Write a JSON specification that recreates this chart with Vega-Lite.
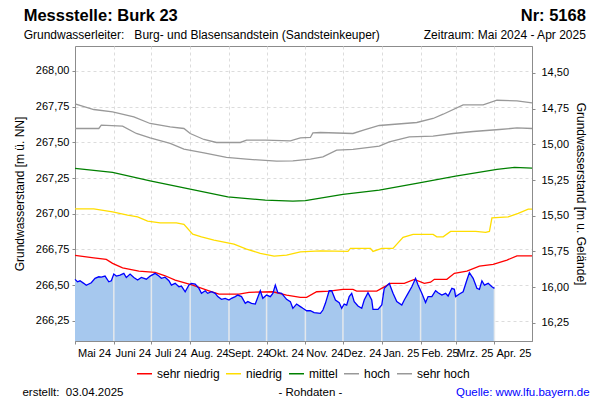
{
  "$schema": "https://vega.github.io/schema/vega-lite/v6.json",
  "width": 457,
  "height": 295,
  "autosize": "none",
  "padding": {"left": 75, "top": 46, "right": 68, "bottom": 59},
  "background": "white",
  "config": {
    "font": "Liberation Sans",
    "view": {"stroke": "#8c8c8c", "strokeWidth": 1},
    "axis": {
      "domainColor": "#8c8c8c",
      "tickColor": "#8c8c8c",
      "gridColor": "#dcdcdc",
      "gridDash": [3, 3],
      "labelFont": "Liberation Sans",
      "labelFontSize": 11,
      "labelColor": "#000000",
      "titleFont": "Liberation Sans",
      "titleFontSize": 12,
      "titleFontWeight": "normal",
      "titleColor": "#000000",
      "tickSize": 3
    },
    "legend": {
      "labelFont": "Liberation Sans",
      "labelFontSize": 12,
      "labelColor": "#000000"
    }
  },
  "datasets": {
    "stats": [
      {"s": "sehr hoch", "d": "2024-05-01", "v": 267.769},
      {"s": "sehr hoch", "d": "2024-05-16", "v": 267.73},
      {"s": "sehr hoch", "d": "2024-05-31", "v": 267.713},
      {"s": "sehr hoch", "d": "2024-06-17", "v": 267.678},
      {"s": "sehr hoch", "d": "2024-06-30", "v": 267.632},
      {"s": "sehr hoch", "d": "2024-07-16", "v": 267.608},
      {"s": "sehr hoch", "d": "2024-07-27", "v": 267.597},
      {"s": "sehr hoch", "d": "2024-08-01", "v": 267.562},
      {"s": "sehr hoch", "d": "2024-08-12", "v": 267.52},
      {"s": "sehr hoch", "d": "2024-08-22", "v": 267.499},
      {"s": "sehr hoch", "d": "2024-09-10", "v": 267.499},
      {"s": "sehr hoch", "d": "2024-09-15", "v": 267.515},
      {"s": "sehr hoch", "d": "2024-09-30", "v": 267.515},
      {"s": "sehr hoch", "d": "2024-10-20", "v": 267.51},
      {"s": "sehr hoch", "d": "2024-10-28", "v": 267.531},
      {"s": "sehr hoch", "d": "2024-11-05", "v": 267.534},
      {"s": "sehr hoch", "d": "2024-11-07", "v": 267.566},
      {"s": "sehr hoch", "d": "2024-11-13", "v": 267.569},
      {"s": "sehr hoch", "d": "2024-12-09", "v": 267.562},
      {"s": "sehr hoch", "d": "2024-12-18", "v": 267.587},
      {"s": "sehr hoch", "d": "2024-12-30", "v": 267.618},
      {"s": "sehr hoch", "d": "2025-01-29", "v": 267.639},
      {"s": "sehr hoch", "d": "2025-02-11", "v": 267.667},
      {"s": "sehr hoch", "d": "2025-02-19", "v": 267.697},
      {"s": "sehr hoch", "d": "2025-03-07", "v": 267.762},
      {"s": "sehr hoch", "d": "2025-03-23", "v": 267.762},
      {"s": "sehr hoch", "d": "2025-04-03", "v": 267.795},
      {"s": "sehr hoch", "d": "2025-04-19", "v": 267.79},
      {"s": "sehr hoch", "d": "2025-05-01", "v": 267.776},
      {"s": "hoch", "d": "2024-05-01", "v": 267.597},
      {"s": "hoch", "d": "2024-05-20", "v": 267.597},
      {"s": "hoch", "d": "2024-05-22", "v": 267.62},
      {"s": "hoch", "d": "2024-06-08", "v": 267.613},
      {"s": "hoch", "d": "2024-06-19", "v": 267.562},
      {"s": "hoch", "d": "2024-06-30", "v": 267.531},
      {"s": "hoch", "d": "2024-07-16", "v": 267.492},
      {"s": "hoch", "d": "2024-07-27", "v": 267.452},
      {"s": "hoch", "d": "2024-08-12", "v": 267.426},
      {"s": "hoch", "d": "2024-08-30", "v": 267.394},
      {"s": "hoch", "d": "2024-09-15", "v": 267.382},
      {"s": "hoch", "d": "2024-10-09", "v": 267.368},
      {"s": "hoch", "d": "2024-10-22", "v": 267.37},
      {"s": "hoch", "d": "2024-11-05", "v": 267.382},
      {"s": "hoch", "d": "2024-11-15", "v": 267.398},
      {"s": "hoch", "d": "2024-11-26", "v": 267.445},
      {"s": "hoch", "d": "2024-12-09", "v": 267.45},
      {"s": "hoch", "d": "2024-12-30", "v": 267.473},
      {"s": "hoch", "d": "2025-01-07", "v": 267.503},
      {"s": "hoch", "d": "2025-01-23", "v": 267.538},
      {"s": "hoch", "d": "2025-02-11", "v": 267.543},
      {"s": "hoch", "d": "2025-02-27", "v": 267.562},
      {"s": "hoch", "d": "2025-03-15", "v": 267.576},
      {"s": "hoch", "d": "2025-04-05", "v": 267.59},
      {"s": "hoch", "d": "2025-04-19", "v": 267.601},
      {"s": "hoch", "d": "2025-05-01", "v": 267.597},
      {"s": "mittel", "d": "2024-05-01", "v": 267.317},
      {"s": "mittel", "d": "2024-05-31", "v": 267.289},
      {"s": "mittel", "d": "2024-06-30", "v": 267.23},
      {"s": "mittel", "d": "2024-07-31", "v": 267.174},
      {"s": "mittel", "d": "2024-08-31", "v": 267.118},
      {"s": "mittel", "d": "2024-09-30", "v": 267.095},
      {"s": "mittel", "d": "2024-10-22", "v": 267.088},
      {"s": "mittel", "d": "2024-11-01", "v": 267.092},
      {"s": "mittel", "d": "2024-12-01", "v": 267.135},
      {"s": "mittel", "d": "2024-12-30", "v": 267.165},
      {"s": "mittel", "d": "2025-01-31", "v": 267.216},
      {"s": "mittel", "d": "2025-03-01", "v": 267.263},
      {"s": "mittel", "d": "2025-04-03", "v": 267.31},
      {"s": "mittel", "d": "2025-04-17", "v": 267.324},
      {"s": "mittel", "d": "2025-05-01", "v": 267.32},
      {"s": "niedrig", "d": "2024-05-01", "v": 267.034},
      {"s": "niedrig", "d": "2024-05-16", "v": 267.034},
      {"s": "niedrig", "d": "2024-05-31", "v": 267.013},
      {"s": "niedrig", "d": "2024-06-12", "v": 266.99},
      {"s": "niedrig", "d": "2024-06-20", "v": 266.978},
      {"s": "niedrig", "d": "2024-06-28", "v": 266.948},
      {"s": "niedrig", "d": "2024-07-08", "v": 266.936},
      {"s": "niedrig", "d": "2024-07-21", "v": 266.936},
      {"s": "niedrig", "d": "2024-07-27", "v": 266.925},
      {"s": "niedrig", "d": "2024-08-03", "v": 266.857},
      {"s": "niedrig", "d": "2024-08-10", "v": 266.838},
      {"s": "niedrig", "d": "2024-08-20", "v": 266.815},
      {"s": "niedrig", "d": "2024-09-05", "v": 266.787},
      {"s": "niedrig", "d": "2024-09-15", "v": 266.752},
      {"s": "niedrig", "d": "2024-09-26", "v": 266.722},
      {"s": "niedrig", "d": "2024-10-07", "v": 266.703},
      {"s": "niedrig", "d": "2024-10-17", "v": 266.71},
      {"s": "niedrig", "d": "2024-10-28", "v": 266.733},
      {"s": "niedrig", "d": "2024-11-13", "v": 266.74},
      {"s": "niedrig", "d": "2024-12-05", "v": 266.736},
      {"s": "niedrig", "d": "2024-12-07", "v": 266.757},
      {"s": "niedrig", "d": "2024-12-23", "v": 266.757},
      {"s": "niedrig", "d": "2024-12-25", "v": 266.736},
      {"s": "niedrig", "d": "2025-01-01", "v": 266.757},
      {"s": "niedrig", "d": "2025-01-10", "v": 266.757},
      {"s": "niedrig", "d": "2025-01-18", "v": 266.834},
      {"s": "niedrig", "d": "2025-01-26", "v": 266.855},
      {"s": "niedrig", "d": "2025-02-11", "v": 266.855},
      {"s": "niedrig", "d": "2025-02-14", "v": 266.838},
      {"s": "niedrig", "d": "2025-02-19", "v": 266.838},
      {"s": "niedrig", "d": "2025-02-25", "v": 266.876},
      {"s": "niedrig", "d": "2025-03-17", "v": 266.876},
      {"s": "niedrig", "d": "2025-03-25", "v": 266.869},
      {"s": "niedrig", "d": "2025-03-28", "v": 266.876},
      {"s": "niedrig", "d": "2025-03-30", "v": 266.971},
      {"s": "niedrig", "d": "2025-04-12", "v": 266.978},
      {"s": "niedrig", "d": "2025-04-20", "v": 267.002},
      {"s": "niedrig", "d": "2025-04-28", "v": 267.032},
      {"s": "niedrig", "d": "2025-05-01", "v": 267.032},
      {"s": "sehr niedrig", "d": "2024-05-01", "v": 266.708},
      {"s": "sehr niedrig", "d": "2024-05-16", "v": 266.691},
      {"s": "sehr niedrig", "d": "2024-05-26", "v": 266.68},
      {"s": "sehr niedrig", "d": "2024-05-31", "v": 266.652},
      {"s": "sehr niedrig", "d": "2024-06-08", "v": 266.621},
      {"s": "sehr niedrig", "d": "2024-06-21", "v": 266.598},
      {"s": "sehr niedrig", "d": "2024-07-04", "v": 266.589},
      {"s": "sehr niedrig", "d": "2024-07-12", "v": 266.565},
      {"s": "sehr niedrig", "d": "2024-07-20", "v": 266.535},
      {"s": "sehr niedrig", "d": "2024-08-03", "v": 266.5},
      {"s": "sehr niedrig", "d": "2024-08-16", "v": 266.46},
      {"s": "sehr niedrig", "d": "2024-08-24", "v": 266.437},
      {"s": "sehr niedrig", "d": "2024-09-09", "v": 266.437},
      {"s": "sehr niedrig", "d": "2024-09-17", "v": 266.449},
      {"s": "sehr niedrig", "d": "2024-10-06", "v": 266.453},
      {"s": "sehr niedrig", "d": "2024-10-17", "v": 266.43},
      {"s": "sehr niedrig", "d": "2024-10-28", "v": 266.414},
      {"s": "sehr niedrig", "d": "2024-11-02", "v": 266.414},
      {"s": "sehr niedrig", "d": "2024-11-10", "v": 266.453},
      {"s": "sehr niedrig", "d": "2024-11-20", "v": 266.458},
      {"s": "sehr niedrig", "d": "2024-12-01", "v": 266.47},
      {"s": "sehr niedrig", "d": "2024-12-09", "v": 266.47},
      {"s": "sehr niedrig", "d": "2024-12-12", "v": 266.458},
      {"s": "sehr niedrig", "d": "2024-12-28", "v": 266.458},
      {"s": "sehr niedrig", "d": "2025-01-03", "v": 266.487},
      {"s": "sehr niedrig", "d": "2025-01-08", "v": 266.512},
      {"s": "sehr niedrig", "d": "2025-01-19", "v": 266.512},
      {"s": "sehr niedrig", "d": "2025-01-27", "v": 266.54},
      {"s": "sehr niedrig", "d": "2025-02-04", "v": 266.512},
      {"s": "sehr niedrig", "d": "2025-02-09", "v": 266.52},
      {"s": "sehr niedrig", "d": "2025-02-12", "v": 266.54},
      {"s": "sehr niedrig", "d": "2025-02-22", "v": 266.54},
      {"s": "sehr niedrig", "d": "2025-02-28", "v": 266.582},
      {"s": "sehr niedrig", "d": "2025-03-10", "v": 266.598},
      {"s": "sehr niedrig", "d": "2025-03-20", "v": 266.633},
      {"s": "sehr niedrig", "d": "2025-03-31", "v": 266.645},
      {"s": "sehr niedrig", "d": "2025-04-11", "v": 266.675},
      {"s": "sehr niedrig", "d": "2025-04-19", "v": 266.705},
      {"s": "sehr niedrig", "d": "2025-05-01", "v": 266.705}
    ],
    "level": [
      {"d": "2024-05-01", "v": 266.54}, {"d": "2024-05-03", "v": 266.523}, {"d": "2024-05-05", "v": 266.53},
      {"d": "2024-05-08", "v": 266.512}, {"d": "2024-05-10", "v": 266.498}, {"d": "2024-05-14", "v": 266.516},
      {"d": "2024-05-17", "v": 266.547}, {"d": "2024-05-20", "v": 266.558}, {"d": "2024-05-22", "v": 266.555},
      {"d": "2024-05-25", "v": 266.563}, {"d": "2024-05-28", "v": 266.523}, {"d": "2024-05-30", "v": 266.53},
      {"d": "2024-06-01", "v": 266.577}, {"d": "2024-06-03", "v": 266.563}, {"d": "2024-06-06", "v": 266.57},
      {"d": "2024-06-09", "v": 266.582}, {"d": "2024-06-11", "v": 266.553}, {"d": "2024-06-14", "v": 266.577},
      {"d": "2024-06-17", "v": 266.553}, {"d": "2024-06-20", "v": 266.535}, {"d": "2024-06-23", "v": 266.553},
      {"d": "2024-06-27", "v": 266.541}, {"d": "2024-06-30", "v": 266.563}, {"d": "2024-07-04", "v": 266.582},
      {"d": "2024-07-07", "v": 266.563}, {"d": "2024-07-09", "v": 266.547}, {"d": "2024-07-12", "v": 266.555},
      {"d": "2024-07-15", "v": 266.53}, {"d": "2024-07-17", "v": 266.5}, {"d": "2024-07-20", "v": 266.512},
      {"d": "2024-07-23", "v": 266.488}, {"d": "2024-07-25", "v": 266.493}, {"d": "2024-07-28", "v": 266.453},
      {"d": "2024-07-31", "v": 266.5}, {"d": "2024-08-02", "v": 266.512}, {"d": "2024-08-05", "v": 266.507},
      {"d": "2024-08-08", "v": 266.477}, {"d": "2024-08-10", "v": 266.442}, {"d": "2024-08-13", "v": 266.46},
      {"d": "2024-08-15", "v": 266.442}, {"d": "2024-08-18", "v": 266.453}, {"d": "2024-08-21", "v": 266.442},
      {"d": "2024-08-23", "v": 266.419}, {"d": "2024-08-26", "v": 266.4}, {"d": "2024-08-29", "v": 266.407},
      {"d": "2024-09-01", "v": 266.395}, {"d": "2024-09-03", "v": 266.407}, {"d": "2024-09-06", "v": 266.419},
      {"d": "2024-09-08", "v": 266.43}, {"d": "2024-09-11", "v": 266.419}, {"d": "2024-09-14", "v": 266.372},
      {"d": "2024-09-16", "v": 266.384}, {"d": "2024-09-19", "v": 266.372}, {"d": "2024-09-22", "v": 266.367},
      {"d": "2024-09-24", "v": 266.414}, {"d": "2024-09-26", "v": 266.46}, {"d": "2024-09-28", "v": 266.407},
      {"d": "2024-10-01", "v": 266.43}, {"d": "2024-10-04", "v": 266.419}, {"d": "2024-10-06", "v": 266.442},
      {"d": "2024-10-08", "v": 266.5}, {"d": "2024-10-10", "v": 266.446}, {"d": "2024-10-13", "v": 266.442},
      {"d": "2024-10-17", "v": 266.4}, {"d": "2024-10-20", "v": 266.384}, {"d": "2024-10-22", "v": 266.337},
      {"d": "2024-10-25", "v": 266.367}, {"d": "2024-10-28", "v": 266.349}, {"d": "2024-10-30", "v": 266.337},
      {"d": "2024-11-02", "v": 266.32}, {"d": "2024-11-05", "v": 266.32}, {"d": "2024-11-08", "v": 266.307},
      {"d": "2024-11-13", "v": 266.302}, {"d": "2024-11-15", "v": 266.325}, {"d": "2024-11-17", "v": 266.372},
      {"d": "2024-11-20", "v": 266.46}, {"d": "2024-11-22", "v": 266.46}, {"d": "2024-11-25", "v": 266.395},
      {"d": "2024-11-28", "v": 266.377}, {"d": "2024-11-30", "v": 266.337}, {"d": "2024-12-02", "v": 266.367},
      {"d": "2024-12-04", "v": 266.36}, {"d": "2024-12-06", "v": 266.419}, {"d": "2024-12-08", "v": 266.442},
      {"d": "2024-12-10", "v": 266.384}, {"d": "2024-12-13", "v": 266.353}, {"d": "2024-12-16", "v": 266.337},
      {"d": "2024-12-18", "v": 266.395}, {"d": "2024-12-21", "v": 266.447}, {"d": "2024-12-24", "v": 266.395},
      {"d": "2024-12-25", "v": 266.33}, {"d": "2024-12-29", "v": 266.33}, {"d": "2025-01-01", "v": 266.36},
      {"d": "2025-01-03", "v": 266.477}, {"d": "2025-01-07", "v": 266.512}, {"d": "2025-01-10", "v": 266.442},
      {"d": "2025-01-13", "v": 266.384}, {"d": "2025-01-17", "v": 266.36}, {"d": "2025-01-19", "v": 266.395},
      {"d": "2025-01-22", "v": 266.442}, {"d": "2025-01-25", "v": 266.488}, {"d": "2025-01-28", "v": 266.547},
      {"d": "2025-01-30", "v": 266.5}, {"d": "2025-02-02", "v": 266.442}, {"d": "2025-02-05", "v": 266.377},
      {"d": "2025-02-07", "v": 266.419}, {"d": "2025-02-10", "v": 266.419}, {"d": "2025-02-13", "v": 266.46},
      {"d": "2025-02-15", "v": 266.446}, {"d": "2025-02-18", "v": 266.43}, {"d": "2025-02-21", "v": 266.442},
      {"d": "2025-02-23", "v": 266.423}, {"d": "2025-02-26", "v": 266.477}, {"d": "2025-02-28", "v": 266.47},
      {"d": "2025-03-01", "v": 266.419}, {"d": "2025-03-04", "v": 266.437}, {"d": "2025-03-07", "v": 266.453},
      {"d": "2025-03-10", "v": 266.535}, {"d": "2025-03-12", "v": 266.587}, {"d": "2025-03-15", "v": 266.547},
      {"d": "2025-03-18", "v": 266.477}, {"d": "2025-03-20", "v": 266.47}, {"d": "2025-03-22", "v": 266.53},
      {"d": "2025-03-24", "v": 266.5}, {"d": "2025-03-27", "v": 266.512}, {"d": "2025-03-30", "v": 266.488},
      {"d": "2025-04-01", "v": 266.477}
    ],
    "months": [
      {"d": "2024-06-01", "v": 266.577}, {"d": "2024-07-01", "v": 266.57}, {"d": "2024-08-01", "v": 266.505},
      {"d": "2024-09-01", "v": 266.395}, {"d": "2024-10-01", "v": 266.43}, {"d": "2024-11-01", "v": 266.325},
      {"d": "2024-12-01", "v": 266.35}, {"d": "2025-01-01", "v": 266.36}, {"d": "2025-02-01", "v": 266.46},
      {"d": "2025-03-01", "v": 266.419}, {"d": "2025-04-01", "v": 266.477}
    ],
    "depth": [{"depth": 14.5}, {"depth": 16.25}],
    "one": [{}]
  },
  "layer": [
    {
      "layer": [
        {
          "data": {"name": "level"},
          "mark": {"type": "area", "color": "#A6C8EE", "opacity": 1},
          "encoding": {
            "x": {
              "field": "d", "type": "temporal",
              "scale": {"type": "utc", "domain": [{"year": 2024, "month": 5, "date": 1, "utc": true}, {"year": 2025, "month": 5, "date": 1, "utc": true}]},
              "axis": {
                "title": null,
                "values": [
                  {"year": 2024, "month": 5, "date": 1, "utc": true}, {"year": 2024, "month": 6, "date": 1, "utc": true},
                  {"year": 2024, "month": 7, "date": 1, "utc": true}, {"year": 2024, "month": 8, "date": 1, "utc": true},
                  {"year": 2024, "month": 9, "date": 1, "utc": true}, {"year": 2024, "month": 10, "date": 1, "utc": true},
                  {"year": 2024, "month": 11, "date": 1, "utc": true}, {"year": 2024, "month": 12, "date": 1, "utc": true},
                  {"year": 2025, "month": 1, "date": 1, "utc": true}, {"year": 2025, "month": 2, "date": 1, "utc": true},
                  {"year": 2025, "month": 3, "date": 1, "utc": true}, {"year": 2025, "month": 4, "date": 1, "utc": true}
                ],
                "labelExpr": "['Mai 24','Juni 24','Juli 24','Aug. 24','Sept. 24','Okt. 24','Nov. 24','Dez. 24','Jan. 25','Feb. 25','Mrz. 25','Apr. 25'][(utcyear(datum.value)-2024)*12+utcmonth(datum.value)-4]",
                "labelOffset": 19,
                "labelAlign": "center",
                "labelPadding": 3,
                "labelFlush": false,
                "labelOverlap": false,
                "grid": true
              }
            },
            "y": {
              "field": "v", "type": "quantitative",
              "scale": {"domain": [266.108, 268.175], "nice": false, "zero": false},
              "axis": {
                "title": "Grundwasserstand [m ü. NN]",
                "values": [266.25, 266.5, 266.75, 267.0, 267.25, 267.5, 267.75, 268.0],
                "labelExpr": "replace(format(datum.value, '.2f'), '.', ',')",
                "labelPadding": 3,
                "titlePadding": 9,
                "grid": true
              }
            },
            "y2": {"datum": 266.108}
          }
        },
        {
          "data": {"name": "months"},
          "mark": {"type": "rule", "color": "#E4E8EC", "strokeWidth": 1.5},
          "encoding": {
            "x": {"field": "d", "type": "temporal"},
            "y": {"field": "v", "type": "quantitative"},
            "y2": {"datum": 266.108}
          }
        },
        {
          "data": {"name": "stats"},
          "mark": {"type": "line", "strokeWidth": 1.3, "interpolate": "linear"},
          "encoding": {
            "x": {"field": "d", "type": "temporal"},
            "y": {"field": "v", "type": "quantitative"},
            "color": {
              "field": "s", "type": "nominal",
              "scale": {"domain": ["sehr niedrig", "niedrig", "mittel", "hoch", "sehr hoch"], "range": ["#FF0000", "#FFDD00", "#008000", "#999999", "#999999"]},
              "legend": {
                "title": null,
                "orient": "none",
                "direction": "horizontal",
                "legendX": 61,
                "legendY": 319,
                "symbolType": "stroke",
                "symbolSize": 225,
                "symbolStrokeWidth": 1.5,
                "labelOffset": 4,
                "columnPadding": 3,
                "padding": 0
              }
            }
          }
        },
        {
          "data": {"name": "level"},
          "mark": {"type": "line", "color": "#0000FF", "strokeWidth": 1.3},
          "encoding": {
            "x": {"field": "d", "type": "temporal"},
            "y": {"field": "v", "type": "quantitative"}
          }
        },
        {
          "data": {"name": "one"},
          "mark": {"type": "text", "text": "Messstelle: Burk 23", "align": "left", "baseline": "alphabetic", "fontSize": 16.5, "fontWeight": "bold", "color": "#000000"},
          "encoding": {
            "x": {"datum": {"year": 2024, "month": 3, "date": 21, "utc": true}, "type": "temporal"},
            "y": {"datum": 268.35, "type": "quantitative"}
          }
        },
        {
          "data": {"name": "one"},
          "mark": {"type": "text", "text": "Nr: 5168", "align": "right", "baseline": "alphabetic", "fontSize": 16.5, "fontWeight": "bold", "color": "#000000"},
          "encoding": {
            "x": {"datum": {"year": 2025, "month": 6, "date": 13, "utc": true}, "type": "temporal"},
            "y": {"datum": 268.35, "type": "quantitative"}
          }
        },
        {
          "data": {"name": "one"},
          "mark": {"type": "text", "text": "Grundwasserleiter:\u00a0\u00a0\u00a0Burg- und Blasensandstein (Sandsteinkeuper)", "align": "left", "baseline": "alphabetic", "fontSize": 12, "color": "#000000"},
          "encoding": {
            "x": {"datum": {"year": 2024, "month": 3, "date": 21, "utc": true}, "type": "temporal"},
            "y": {"datum": 268.224, "type": "quantitative"}
          }
        },
        {
          "data": {"name": "one"},
          "mark": {"type": "text", "text": "Zeitraum: Mai 2024 - Apr 2025", "align": "right", "baseline": "alphabetic", "fontSize": 12, "color": "#000000"},
          "encoding": {
            "x": {"datum": {"year": 2025, "month": 6, "date": 13, "utc": true}, "type": "temporal"},
            "y": {"datum": 268.224, "type": "quantitative"}
          }
        },
        {
          "data": {"name": "one"},
          "mark": {"type": "text", "text": "erstellt:\u00a0\u00a003.04.2025", "align": "left", "baseline": "alphabetic", "fontSize": 11.5, "color": "#000000"},
          "encoding": {
            "x": {"datum": {"year": 2024, "month": 3, "date": 20, "utc": true}, "type": "temporal"},
            "y": {"datum": 265.722, "type": "quantitative"}
          }
        },
        {
          "data": {"name": "one"},
          "mark": {"type": "text", "text": "- Rohdaten -", "align": "center", "baseline": "alphabetic", "fontSize": 11.5, "color": "#000000"},
          "encoding": {
            "x": {"datum": {"year": 2024, "month": 11, "date": 5, "utc": true}, "type": "temporal"},
            "y": {"datum": 265.722, "type": "quantitative"}
          }
        },
        {
          "data": {"name": "one"},
          "mark": {"type": "text", "text": "Quelle: www.lfu.bayern.de", "align": "right", "baseline": "alphabetic", "fontSize": 11.5, "color": "#0000FF"},
          "encoding": {
            "x": {"datum": {"year": 2025, "month": 6, "date": 16, "utc": true}, "type": "temporal"},
            "y": {"datum": 265.722, "type": "quantitative"}
          }
        }
      ]
    },
    {
      "data": {"name": "depth"},
      "mark": {"type": "point", "opacity": 0},
      "encoding": {
        "y": {
          "field": "depth", "type": "quantitative",
          "scale": {"domain": [14.311, 16.378], "reverse": true, "nice": false, "zero": false},
          "axis": {
            "orient": "right",
            "title": "Grundwasserstand [m u. Gelände]",
            "values": [14.5, 14.75, 15.0, 15.25, 15.5, 15.75, 16.0, 16.25],
            "labelExpr": "replace(format(datum.value, '.2f'), '.', ',')",
            "labelPadding": 6,
            "titlePadding": 5,
            "grid": false
          }
        }
      }
    }
  ],
  "resolve": {"scale": {"y": "independent"}}
}
